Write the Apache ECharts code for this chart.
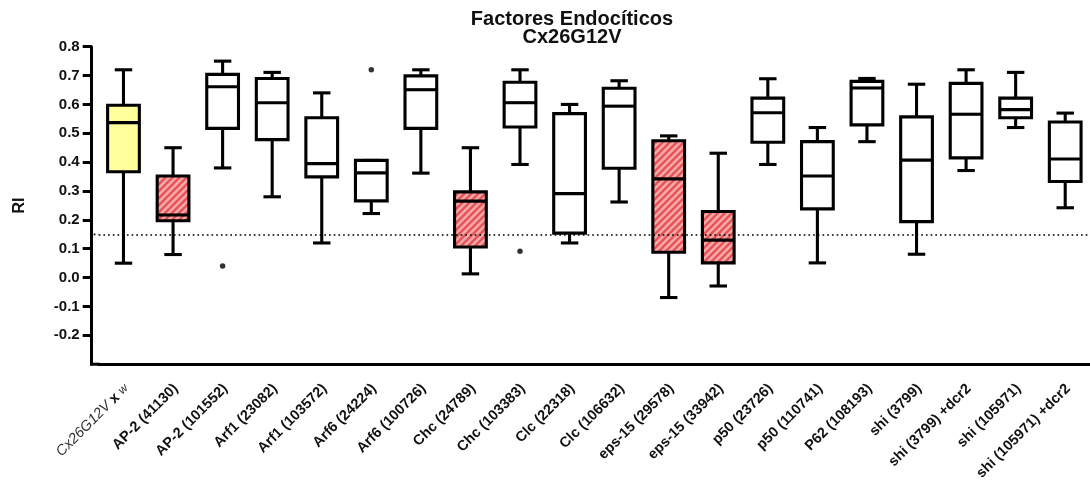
<!DOCTYPE html>
<html>
<head>
<meta charset="utf-8">
<script src="https://cdn.jsdelivr.net/npm/echarts@6/dist/echarts.min.js"></script>
<style>
  html, body { margin: 0; padding: 0; background: #fff; }
  #chart { width: 1090px; height: 483px; }
</style>
</head>
<body>
<div id="chart"></div>
<script>
// RNAi lines tested against the Cx26G12V background
const categories = [
  'Cx26G12V x w', 'AP-2 (41130)', 'AP-2 (101552)', 'Arf1 (23082)', 'Arf1 (103572)',
  'Arf6 (24224)', 'Arf6 (100726)', 'Chc (24789)', 'Chc (103383)', 'Clc (22318)',
  'Clc (106632)', 'eps-15 (29578)', 'eps-15 (33942)', 'p50 (23726)', 'p50 (110741)',
  'P62 (108193)', 'shi (3799)', 'shi (3799) +dcr2', 'shi (105971)', 'shi (105971) +dcr2'
];

// five-number summaries of RI per line
const whiskerLow  = [0.05, 0.08, 0.38, 0.28, 0.12, 0.222, 0.362, 0.013, 0.392, 0.12,
                     0.262, -0.069, -0.029, 0.392, 0.051, 0.471, 0.081, 0.371, 0.52, 0.242];
const quartile1   = [0.367, 0.197, 0.517, 0.478, 0.349, 0.266, 0.517, 0.106, 0.522, 0.154,
                     0.379, 0.088, 0.051, 0.469, 0.238, 0.529, 0.194, 0.415, 0.554, 0.333];
const medians     = [0.537, 0.217, 0.661, 0.606, 0.395, 0.363, 0.651, 0.265, 0.606, 0.291,
                     0.594, 0.342, 0.13, 0.571, 0.352, 0.657, 0.407, 0.566, 0.582, 0.411];
const quartile3   = [0.597, 0.352, 0.704, 0.69, 0.554, 0.406, 0.699, 0.297, 0.677, 0.568,
                     0.656, 0.474, 0.229, 0.622, 0.471, 0.68, 0.557, 0.673, 0.622, 0.539];
const whiskerHigh = [0.72, 0.45, 0.75, 0.711, 0.64, 0.406, 0.72, 0.45, 0.72, 0.6,
                     0.682, 0.491, 0.431, 0.689, 0.52, 0.69, 0.67, 0.72, 0.711, 0.57];

// control = yellow, significant suppressors = hatched red, rest = plain
const boxFill = ['yellow', 'hatch', 'plain', 'plain', 'plain', 'plain', 'plain', 'hatch', 'plain', 'plain',
                 'plain', 'hatch', 'hatch', 'plain', 'plain', 'plain', 'plain', 'plain', 'plain', 'plain'];

// points outside the whiskers: [line index, RI]
const outliers = [[2, 0.04], [5, 0.72], [8, 0.091]];

const threshold = 0.15;
const yTicks = [-0.2, -0.1, 0.0, 0.1, 0.2, 0.3, 0.4, 0.5, 0.6, 0.7, 0.8];

const FONT = "'Liberation Sans', Arial, Helvetica, sans-serif";
const GRID_LEFT = 98.7;
const Y_OFFSET = 7;
const LINE_W = 3.1;

// diagonal red stripes for the hatched boxes
function stripeCanvas() {
  const s = 7;
  const cv = document.createElement('canvas');
  cv.width = s; cv.height = s;
  const g = cv.getContext('2d');
  g.fillStyle = '#f8aaaa';
  g.fillRect(0, 0, s, s);
  g.strokeStyle = '#e6545a';
  g.lineWidth = 2.5;
  g.beginPath();
  g.moveTo(0, s); g.lineTo(s, 0);
  g.moveTo(-s, s); g.lineTo(s, -s);
  g.moveTo(0, 2 * s); g.lineTo(2 * s, 0);
  g.stroke();
  return cv;
}
const hatch = { image: stripeCanvas(), repeat: 'repeat' };

const boxData = categories.map((c, i) =>
  [i, whiskerLow[i], quartile1[i], medians[i], quartile3[i], whiskerHigh[i]]);

function renderBox(params, api) {
  const i = api.value(0);
  const cx = api.coord([i, 0])[0];
  const yLo = api.coord([i, api.value(1)])[1];
  const yQ1 = api.coord([i, api.value(2)])[1];
  const yMed = api.coord([i, api.value(3)])[1];
  const yQ3 = api.coord([i, api.value(4)])[1];
  const yHi = api.coord([i, api.value(5)])[1];
  const bw = api.size([1, 0])[0] * 0.64;
  const cap = bw * 0.55;
  const kind = boxFill[params.dataIndex];
  const fill = kind === 'hatch' ? hatch : (kind === 'yellow' ? '#ffff9c' : '#ffffff');
  const ln = { stroke: '#000', lineWidth: LINE_W, fill: null };
  return {
    type: 'group',
    children: [
      { type: 'line', shape: { x1: cx, y1: yQ1, x2: cx, y2: yLo }, style: ln },
      { type: 'line', shape: { x1: cx, y1: yQ3, x2: cx, y2: yHi }, style: ln },
      { type: 'line', shape: { x1: cx - cap / 2, y1: yLo, x2: cx + cap / 2, y2: yLo }, style: ln },
      { type: 'line', shape: { x1: cx - cap / 2, y1: yHi, x2: cx + cap / 2, y2: yHi }, style: ln },
      { type: 'rect', shape: { x: cx - bw / 2, y: yQ3, width: bw, height: yQ1 - yQ3 },
        style: { fill: fill, stroke: '#000', lineWidth: LINE_W } },
      { type: 'line', shape: { x1: cx - bw / 2, y1: yMed, x2: cx + bw / 2, y2: yMed }, style: ln }
    ]
  };
}

const chart = echarts.init(document.getElementById('chart'), null, { renderer: 'canvas' });

chart.setOption({
  animation: false,
  backgroundColor: '#fff',
  textStyle: { fontFamily: FONT },
  title: {
    text: 'Factores Endocíticos\nCx26G12V',
    left: 572,
    top: 10,
    padding: 0,
    textAlign: 'center',
    textStyle: { fontFamily: FONT, fontSize: 20, fontWeight: 'bold', color: '#111', lineHeight: 18.5 }
  },
  grid: { left: GRID_LEFT, right: -2.3, top: 46.7, bottom: 116.3, containLabel: false },
  xAxis: {
    type: 'category',
    data: categories,
    boundaryGap: true,
    axisLine: { onZero: false, lineStyle: { color: '#000', width: 3 } },
    axisTick: { alignWithLabel: true, length: 9, lineStyle: { color: '#000', width: 3 } },
    axisLabel: {
      interval: 0,
      rotate: 45,
      margin: 25,
      padding: [0, -4, 0, 0],
      fontFamily: FONT,
      fontSize: 14.5,
      fontWeight: 'bold',
      color: '#111',
      formatter: (v, idx) => idx === 0 ? '{i|Cx26G12V} {b|x} {w|w}' : v,
      rich: {
        i: { fontFamily: FONT, fontSize: 14.5, fontStyle: 'italic', fontWeight: 'normal', color: '#333' },
        b: { fontFamily: FONT, fontSize: 14.5, fontWeight: 'bold', color: '#111' },
        w: { fontFamily: FONT, fontSize: 12, fontStyle: 'italic', fontWeight: 'normal', color: '#333' }
      }
    },
    splitLine: { show: false }
  },
  yAxis: {
    type: 'value',
    min: -0.3,
    max: 0.8,
    interval: 0.1,
    offset: Y_OFFSET,
    name: 'RI',
    nameLocation: 'middle',
    nameGap: 64,
    nameTextStyle: { fontFamily: FONT, fontSize: 16, fontWeight: 'bold', color: '#111' },
    axisLine: { show: true, lineStyle: { color: '#000', width: 3 } },
    axisTick: { show: true, length: 9, customValues: yTicks, lineStyle: { color: '#000', width: 3 } },
    axisLabel: {
      customValues: yTicks,
      margin: 12,
      fontFamily: FONT,
      fontSize: 15,
      fontWeight: 'bold',
      color: '#111',
      formatter: v => (Math.abs(v) < 1e-9 ? 0 : v).toFixed(1)
    },
    splitLine: { show: false }
  },
  series: [
    {
      // dotted reference level
      type: 'line',
      data: [],
      z: 1,
      silent: true,
      markLine: {
        silent: true,
        symbol: ['none', 'none'],
        label: { show: false },
        lineStyle: { color: '#000', type: [1.7, 3], width: 1.7 },
        data: [{ yAxis: threshold }]
      }
    },
    {
      type: 'custom',
      z: 2,
      renderItem: renderBox,
      encode: { x: 0, y: [1, 2, 3, 4, 5] },
      data: boxData
    },
    {
      type: 'scatter',
      z: 3,
      symbol: 'circle',
      symbolSize: 5.5,
      itemStyle: { color: '#000' },
      data: outliers
    }
  ]
});

// carry the x axis line and the dotted level back to the offset y axis
const yBase = chart.convertToPixel({ yAxisIndex: 0 }, -0.3);
const yThr = chart.convertToPixel({ yAxisIndex: 0 }, threshold);
chart.setOption({
  graphic: [
    { type: 'line', z: 10, shape: { x1: GRID_LEFT - Y_OFFSET - 1.5, y1: yBase, x2: GRID_LEFT + 1, y2: yBase },
      style: { stroke: '#000', lineWidth: 3 } },
    { type: 'line', z: 0, shape: { x1: GRID_LEFT - Y_OFFSET + 2, y1: yThr, x2: GRID_LEFT, y2: yThr },
      style: { stroke: '#000', lineWidth: 1.7, lineDash: [1.7, 3] } }
  ]
});
</script>
</body>
</html>
